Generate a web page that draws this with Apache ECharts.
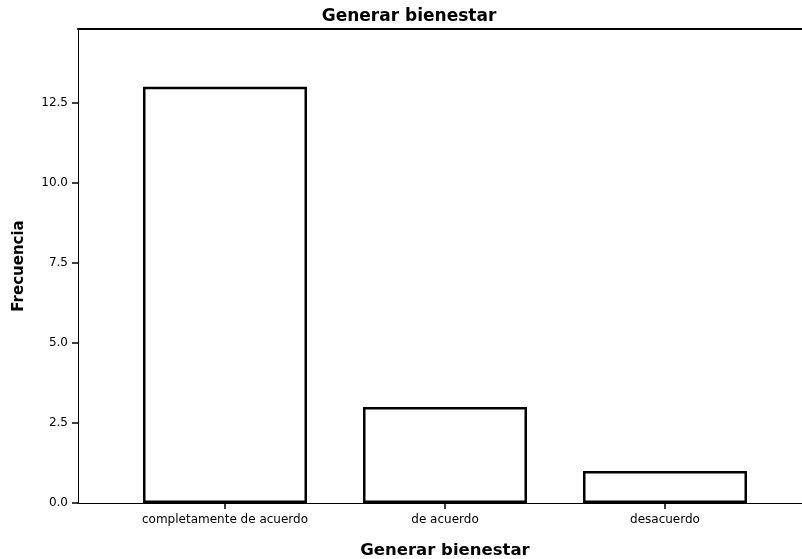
<!DOCTYPE html>
<html>
<head>
<meta charset="utf-8">
<script src="https://cdn.jsdelivr.net/npm/echarts@6/dist/echarts.min.js"></script>
<style>
  html, body { margin: 0; padding: 0; background: #fff; }
  #chart { width: 802px; height: 559px; }
</style>
</head>
<body>
<div id="chart"></div>
<script>
// datos
const categorias = ['completamente de acuerdo', 'de acuerdo', 'desacuerdo']
const frecuencias = [13, 3, 1]
const yTicks = [0, 2.5, 5, 7.5, 10, 12.5]
const yMax = 14.8

const chart = echarts.init(document.getElementById('chart'))
const fuente = 'DejaVu Sans'

const option = {
  animation: false,
  backgroundColor: '#fff',
  title: {
    text: 'Generar bienestar',
    left: 404,
    textAlign: 'center',
    top: 3,
    textStyle: { fontFamily: fuente, fontWeight: 'bold', fontSize: 17, color: '#000' }
  },
  grid: [
    // marco: eje izquierdo, linea superior y linea inferior
    { left: 78, right: 0, top: 29, bottom: 56, outerBoundsMode: 'none' },
    // zona de las barras
    { left: 115, right: 27, top: 29, bottom: 56, outerBoundsMode: 'none' }
  ],
  xAxis: [
    {
      gridIndex: 0,
      type: 'value',
      min: 0,
      max: 1,
      axisLine: { show: true, onZero: false, lineStyle: { color: '#000', width: 1 } },
      axisTick: { show: false },
      axisLabel: { show: false },
      splitLine: { show: false }
    },
    {
      gridIndex: 0,
      type: 'value',
      position: 'top',
      min: 0,
      max: 1,
      axisLine: { show: true, onZero: false, lineStyle: { color: '#000', width: 2 } },
      axisTick: { show: false },
      axisLabel: { show: false },
      splitLine: { show: false }
    },
    {
      gridIndex: 1,
      type: 'category',
      data: categorias,
      axisLine: { show: false, onZero: false },
      axisTick: { show: true, alignWithLabel: true, length: 6, lineStyle: { color: '#000', width: 1.5 } },
      axisLabel: { fontFamily: fuente, fontSize: 12, color: '#000', margin: 11 },
      name: 'Generar bienestar',
      nameLocation: 'middle',
      nameGap: 39,
      nameTextStyle: { fontFamily: fuente, fontWeight: 'bold', fontSize: 16.5, color: '#000' }
    }
  ],
  yAxis: [
    {
      gridIndex: 0,
      type: 'value',
      min: 0,
      max: yMax,
      name: 'Frecuencia',
      nameLocation: 'middle',
      nameGap: 51,
      nameTextStyle: { fontFamily: fuente, fontWeight: 'bold', fontSize: 15, color: '#000' },
      axisLine: { show: true, onZero: false, lineStyle: { color: '#000', width: 1 } },
      axisTick: { show: true, length: 6, customValues: yTicks, lineStyle: { color: '#000', width: 1.5 } },
      axisLabel: {
        customValues: yTicks,
        fontFamily: fuente,
        fontSize: 12,
        color: '#000',
        margin: 10,
        formatter: function (v) { return v.toFixed(1) }
      },
      splitLine: { show: false }
    },
    {
      gridIndex: 1,
      type: 'value',
      min: 0,
      max: yMax,
      show: false
    }
  ],
  series: [
    {
      type: 'bar',
      xAxisIndex: 2,
      yAxisIndex: 1,
      data: frecuencias,
      barWidth: 164,
      itemStyle: { color: '#fff', borderColor: '#000', borderWidth: 2.5 }
    }
  ]
}
chart.setOption(option)
</script>
</body>
</html>
